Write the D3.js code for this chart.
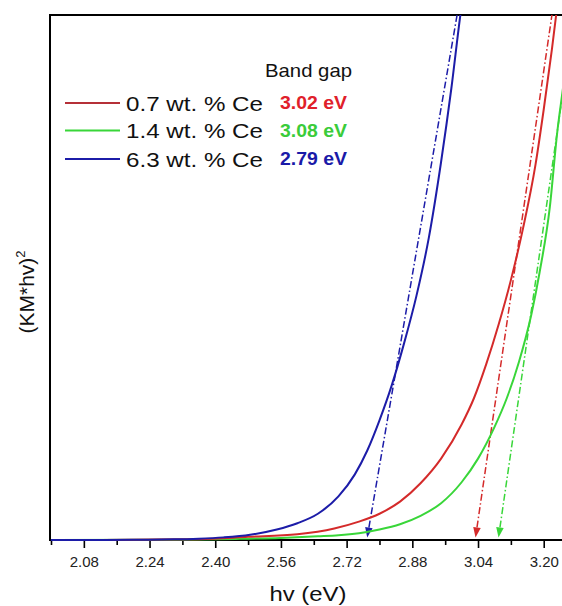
<!DOCTYPE html>
<html><head><meta charset="utf-8">
<script src="https://cdn.jsdelivr.net/npm/d3@7"></script>
<style>
html,body{margin:0;padding:0;background:#fff;}
svg{display:block;font-family:"Liberation Sans",Arial,sans-serif;}
</style></head>
<body>
<svg id="chart" width="562" height="606"></svg>
<script>
// ---- data (hv in eV, (KM*hv)^2 in arbitrary units, 100 = top of frame) ----
const seriesNames = ["0.7 wt. % Ce", "1.4 wt. % Ce", "6.3 wt. % Ce"];
const bandGaps = ["3.02 eV", "3.08 eV", "2.79 eV"];
const xTicks = [2.08, 2.24, 2.40, 2.56, 2.72, 2.88, 3.04, 3.20];
const xMinorTicks = [2.00, 2.16, 2.32, 2.48, 2.64, 2.80, 2.96, 3.12];

const redX = [2.00, 2.20, 2.36, 2.48, 2.60, 2.69, 2.75, 2.80, 2.85, 2.90, 2.95, 3.00, 3.03, 3.06, 3.09, 3.12, 3.15, 3.18, 3.20, 3.22, 3.235];
const redY = [0.0, 0.05, 0.15, 0.6, 1.1, 2.2, 3.5, 5.0, 7.3, 10.8, 15.5, 22.0, 27.0, 33.5, 41.0, 49.5, 59.5, 71.5, 82.0, 93.5, 103];
const greenX = [2.00, 2.30, 2.45, 2.56, 2.65, 2.70, 2.75, 2.80, 2.85, 2.90, 2.95, 3.00, 3.04, 3.08, 3.11, 3.14, 3.17, 3.19, 3.215, 3.232, 3.25, 3.26];
const greenY = [0.0, 0.05, 0.2, 0.4, 0.7, 0.9, 1.3, 2.0, 3.0, 4.6, 7.0, 11.0, 15.5, 21.5, 27.0, 34.0, 43.0, 51.0, 63.5, 77.0, 88.0, 95.0];
const blueX = [2.00, 2.20, 2.30, 2.36, 2.42, 2.485, 2.55, 2.60, 2.65, 2.70, 2.74, 2.77, 2.80, 2.83, 2.86, 2.89, 2.92, 2.95, 2.975, 2.997, 3.005];
const blueY = [0.0, 0.05, 0.12, 0.25, 0.5, 1.0, 2.0, 3.2, 5.0, 8.3, 12.5, 17.0, 22.8, 29.5, 37.5, 46.5, 57.5, 72.0, 86.0, 100.0, 104.5];

// tangent (extrapolation) lines: [x at bottom, x at top(=100)]
const redTangent = [3.033, 3.220];
const greenTangent = [3.089, 3.274];
const blueTangent = [2.769, 2.989];

const colors = ["#d42a2a", "#39d639", "#1c1ca8"];
const lineColors = ["#b53038", "#39d639", "#1c1ca8"];
const textColors = ["#e0202a", "#3acc3a", "#1a1aa8"];

// ---- layout ----
const svg = d3.select("#chart");
const L = 51, R = 562, T = 15, B = 540;
const x = d3.scaleLinear().domain([2.0, 2.0 + (R - L) / 410.6]).range([L, R]);
const y = d3.scaleLinear().domain([0, 100]).range([B, T]);

svg.append("defs").append("clipPath").attr("id", "clip")
  .append("rect").attr("x", L).attr("y", T).attr("width", R - L).attr("height", B - T + 2);

// axis
const xAxis = d3.axisBottom(x).tickValues(xTicks).tickSize(8).tickFormat(d3.format(".2f"));
const gx = svg.append("g").attr("transform", `translate(0,${B})`).call(xAxis);
gx.select(".domain").remove();
gx.selectAll(".tick line").attr("stroke", "#000").attr("stroke-width", 1.6);
gx.selectAll(".tick text").attr("font-size", 15).attr("fill", "#222").attr("dy", 0).attr("y", 26.5)
  .attr("font-family", "Liberation Sans, Arial, sans-serif");
const xMinor = d3.axisBottom(x).tickValues(xMinorTicks).tickSize(5).tickFormat("");
const gm = svg.append("g").attr("transform", `translate(0,${B})`).call(xMinor);
gm.select(".domain").remove();
gm.selectAll(".tick line").attr("stroke", "#000").attr("stroke-width", 1.6);

// frame
svg.append("line").attr("x1", L - 1).attr("x2", R).attr("y1", B).attr("y2", B).attr("stroke", "#000").attr("stroke-width", 2);
svg.append("line").attr("x1", L - 1).attr("x2", R).attr("y1", T).attr("y2", T).attr("stroke", "#000").attr("stroke-width", 2);
svg.append("line").attr("x1", L - 1).attr("x2", L - 1).attr("y1", T - 1).attr("y2", B + 1).attr("stroke", "#000").attr("stroke-width", 2);

const plot = svg.append("g").attr("clip-path", "url(#clip)");
const line = d3.line().x(d => x(d[0])).y(d => y(d[1])).curve(d3.curveMonotoneX);

// tangents
const tangents = [redTangent, greenTangent, blueTangent];
tangents.forEach((t, i) => {
  const tipY = 0.5;
  const p0 = [x(t[0] + (t[1] - t[0]) * tipY / 100), y(tipY)];
  const p1 = [x(t[1]), y(100)];
  const ang = Math.atan2(p1[1] - p0[1], p1[0] - p0[0]);
  const len = 10, half = 3.8;
  const bx = p0[0] + Math.cos(ang) * len, by = p0[1] + Math.sin(ang) * len;
  plot.append("line").attr("x1", bx).attr("y1", by).attr("x2", p1[0]).attr("y2", p1[1])
    .attr("stroke", colors[i]).attr("stroke-width", 1.5).attr("stroke-dasharray", "7,2.5,1.5,2.5");
  const nx = -Math.sin(ang), ny = Math.cos(ang);
  plot.append("path")
    .attr("d", `M${p0[0]},${p0[1]}L${bx + nx * half},${by + ny * half}L${bx - nx * half},${by - ny * half}Z`)
    .attr("fill", colors[i]);
});

// curves
const data = [d3.zip(redX, redY), d3.zip(greenX, greenY), d3.zip(blueX, blueY)];
[1, 0, 2].forEach(i => {
  plot.append("path").datum(data[i]).attr("d", line)
    .attr("fill", "none").attr("stroke", colors[i]).attr("stroke-width", 2);
});

// legend
svg.append("text").attr("x", 265).attr("y", 77).attr("font-size", 19)
  .attr("textLength", 87).attr("lengthAdjust", "spacingAndGlyphs").attr("fill", "#111").text("Band gap");
const rows = [110.5, 138, 166.5];
seriesNames.forEach((n, i) => {
  svg.append("line").attr("x1", 65).attr("x2", 120).attr("y1", rows[i] - 7.5).attr("y2", rows[i] - 7.5)
    .attr("stroke", lineColors[i]).attr("stroke-width", 2);
  svg.append("text").attr("x", 126).attr("y", rows[i]).attr("font-size", 20.5)
    .attr("textLength", 137).attr("lengthAdjust", "spacingAndGlyphs").attr("fill", "#111").text(n);
  svg.append("text").attr("x", 280).attr("y", rows[i] - 1.5).attr("font-size", 17.5).attr("font-weight", "bold")
    .attr("textLength", 67).attr("lengthAdjust", "spacingAndGlyphs").attr("fill", textColors[i]).text(bandGaps[i]);
});

// axis titles
svg.append("text").attr("x", 308).attr("y", 601).attr("text-anchor", "middle").attr("font-size", 21)
  .attr("textLength", 77).attr("lengthAdjust", "spacingAndGlyphs").attr("fill", "#111").text("hv (eV)");
const yl = svg.append("text").attr("transform", "translate(34,292) rotate(-90)").attr("text-anchor", "middle")
  .attr("font-size", 21).attr("fill", "#111");
yl.append("tspan").text("(KM*hv)");
yl.append("tspan").attr("font-size", 13).attr("dy", -9).text("2");
</script>
</body></html>
